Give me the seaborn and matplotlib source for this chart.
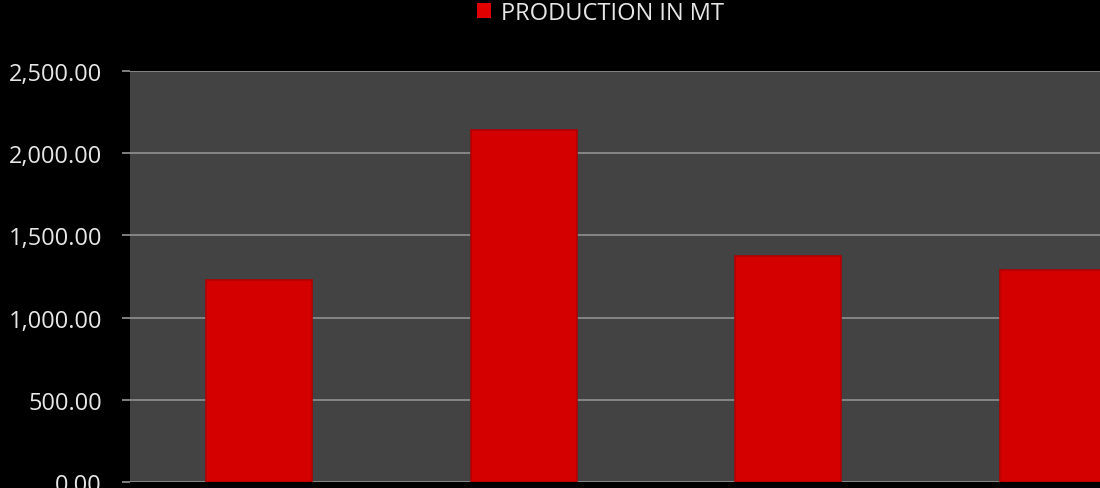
import matplotlib
matplotlib.use("Agg")
import matplotlib.pyplot as plt
import seaborn as sns
import pandas as pd
from matplotlib.ticker import FuncFormatter
from matplotlib.patches import Patch

categories = ["A", "B", "C", "D"]
production = [1230, 2140, 1375, 1290]
series_label = "PRODUCTION IN MT"
y_ticks = [0, 500, 1000, 1500, 2000, 2500]

sns.set_theme(style="dark")
plt.rcParams['font.family'] = ['Open Sans', 'DejaVu Sans']

df = pd.DataFrame({"cat": categories, "val": production})

fig = plt.figure(figsize=(11, 4.89), dpi=100, facecolor="black")
ax = fig.add_axes([0.118, 0.0123, 0.882, 0.8405])
ax.set_facecolor("#434343")

sns.barplot(data=df, x="cat", y="val", color="#d40000", width=0.4,
            saturation=1, ax=ax, edgecolor="#b00000", linewidth=1.2)

ax.set_ylim(0, 2500)
ax.set_xlim(-0.49, 3.18)
ax.set_yticks(y_ticks)
ax.yaxis.set_major_formatter(FuncFormatter(lambda v, p: f"{v:,.2f}"))
ax.grid(axis="y", color="#8a8a8a", linewidth=1.3)
ax.grid(axis="x", visible=False)
ax.set_axisbelow(True)
for s in ax.spines.values():
    s.set_visible(False)
ax.tick_params(axis="y", colors="#8a8a8a", labelcolor="#e6e6e6", labelsize=17,
               length=6, width=1.3, pad=14, left=True)
ax.tick_params(axis="x", bottom=False, labelbottom=False)
ax.set_xlabel("")
ax.set_ylabel("")

handle = Patch(facecolor="#e00000", edgecolor="none")
fig.legend([handle], [series_label], loc="center", bbox_to_anchor=(0.546, 0.972),
           frameon=False, fontsize=17, labelcolor="#e6e6e6",
           handlelength=0.6, handleheight=0.6, handletextpad=0.4)

fig.savefig("out.png", dpi=100, facecolor="black")
